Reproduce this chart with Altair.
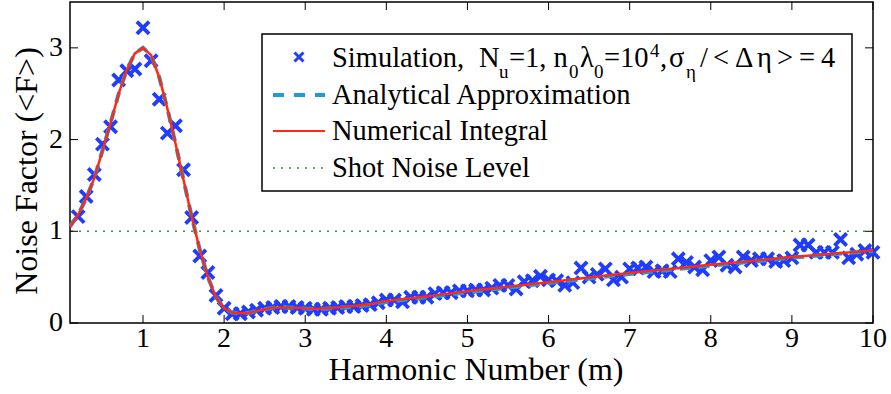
import altair as alt
import pandas as pd

# ---- data -------------------------------------------------------------
# Simulated noise factor at each harmonic number
harmonic = [0.2, 0.3, 0.4, 0.5, 0.6, 0.7, 0.8, 0.9, 1.0,
            1.1, 1.2, 1.3, 1.4, 1.5, 1.6, 1.7, 1.8, 1.9, 2.0,
            2.1, 2.2, 2.3, 2.4, 2.5, 2.6, 2.7, 2.8, 2.9, 3.0,
            3.1, 3.2, 3.3, 3.4, 3.5, 3.6, 3.7, 3.8, 3.9, 4.0,
            4.1, 4.2, 4.3, 4.4, 4.5, 4.6, 4.7, 4.8, 4.9, 5.0,
            5.1, 5.2, 5.3, 5.4, 5.5, 5.6, 5.7, 5.8, 5.9, 6.0,
            6.1, 6.2, 6.3, 6.4, 6.5, 6.6, 6.7, 6.8, 6.9, 7.0,
            7.1, 7.2, 7.3, 7.4, 7.5, 7.6, 7.7, 7.8, 7.9, 8.0,
            8.1, 8.2, 8.3, 8.4, 8.5, 8.6, 8.7, 8.8, 8.9, 9.0,
            9.1, 9.2, 9.3, 9.4, 9.5, 9.6, 9.7, 9.8, 9.9, 10.0]
simulation = [1.16, 1.38, 1.62, 1.95, 2.14, 2.65, 2.75, 2.77, 3.22,
              2.86, 2.44, 2.07, 2.15, 1.67, 1.15, 0.73, 0.55, 0.30, 0.16,
              0.10, 0.10, 0.12, 0.14, 0.16, 0.17, 0.18, 0.18, 0.17, 0.16,
              0.15, 0.15, 0.16, 0.17, 0.18, 0.18, 0.19, 0.20, 0.22, 0.25,
              0.25, 0.23, 0.28, 0.28, 0.28, 0.32, 0.33, 0.33, 0.35, 0.35,
              0.36, 0.36, 0.38, 0.41, 0.41, 0.37, 0.45, 0.46, 0.51, 0.47,
              0.46, 0.41, 0.44, 0.60, 0.50, 0.53, 0.59, 0.47, 0.50, 0.59,
              0.60, 0.61, 0.56, 0.57, 0.56, 0.70, 0.66, 0.61, 0.58, 0.68,
              0.72, 0.63, 0.61, 0.72, 0.68, 0.70, 0.70, 0.67, 0.68, 0.71,
              0.85, 0.85, 0.77, 0.77, 0.77, 0.91, 0.71, 0.75, 0.79, 0.77]

# Theory curves
curve_m = [0.1, 0.2, 0.3, 0.4, 0.5, 0.6, 0.7, 0.8, 0.9, 1.0,
           1.1, 1.2, 1.3, 1.4, 1.5, 1.6, 1.7, 1.8, 1.9, 2.0,
           2.1, 2.2, 2.3, 2.4, 2.5, 2.6, 2.7, 2.8, 2.9, 3.0,
           3.1, 3.2, 3.4, 3.6, 3.8, 4.0, 4.5, 5.0, 5.5, 6.0,
           6.5, 7.0, 7.5, 8.0, 8.5, 9.0, 9.5, 10.0]
numerical = [1.05, 1.18, 1.36, 1.58, 1.88, 2.18, 2.50, 2.76, 2.94, 3.00,
             2.92, 2.68, 2.34, 1.96, 1.56, 1.16, 0.80, 0.50, 0.28, 0.16,
             0.115, 0.105, 0.11, 0.13, 0.15, 0.165, 0.17, 0.17, 0.165, 0.158,
             0.155, 0.157, 0.17, 0.185, 0.205, 0.24, 0.29, 0.345, 0.395, 0.445,
             0.495, 0.545, 0.59, 0.635, 0.675, 0.72, 0.755, 0.79]
analytical = [1.05, 1.18, 1.36, 1.58, 1.88, 2.18, 2.50, 2.76, 2.94, 3.00,
              2.92, 2.68, 2.34, 1.96, 1.56, 1.16, 0.80, 0.50, 0.28, 0.16,
              0.115, 0.105, 0.11, 0.13, 0.15, 0.165, 0.17, 0.17, 0.165, 0.158,
              0.153, 0.153, 0.163, 0.177, 0.196, 0.23, 0.28, 0.335, 0.385, 0.435,
              0.485, 0.535, 0.58, 0.625, 0.668, 0.712, 0.75, 0.785]

shot_noise = [1.0]

x_ticks = [1, 2, 3, 4, 5, 6, 7, 8, 9, 10]
y_ticks = [0, 1, 2, 3]

# ---- styling ------------------------------------------------------------
W, H = 803, 321
FONT = "Liberation Serif"
BLUE = "#1f3cff"
CYAN = "#1b9ddb"
RED = "#ff2a10"
GREEN = "#2ca02c"
X_PATH = "M-1,-1L1,1M-1,1L1,-1"
TICK = 8

x_scale = alt.Scale(domain=[0.1, 10], nice=False, zero=False)
y_scale = alt.Scale(domain=[0, 3.5], nice=False, zero=False)

sim_df = pd.DataFrame({"m": harmonic, "F": simulation})
curve_df = pd.DataFrame({"m": curve_m, "num": numerical, "ana": analytical})
shot_df = pd.DataFrame({"F": shot_noise})
xt_df = pd.DataFrame({"m": x_ticks})
yt_df = pd.DataFrame({"F": y_ticks})
one = alt.Data(values=[{}])


def X(field):
    return alt.X(field, scale=x_scale, axis=None)


def Y(field):
    return alt.Y(field, scale=y_scale, axis=None)


sim = alt.Chart(sim_df).mark_point(
    shape=X_PATH, filled=False, color=BLUE, strokeWidth=3.8, size=150, opacity=1
).encode(x=X("m:Q"), y=Y("F:Q"))

ana = alt.Chart(curve_df).mark_line(
    color=CYAN, strokeWidth=4, strokeDash=[11, 8]
).encode(x=X("m:Q"), y=Y("ana:Q"))

num = alt.Chart(curve_df).mark_line(color=RED, strokeWidth=2.5).encode(
    x=X("m:Q"), y=Y("num:Q"))

shot = alt.Chart(shot_df).mark_rule(
    color=GREEN, strokeWidth=1.5, strokeDash=[2, 6]
).encode(y=Y("F:Q"))

# inward ticks on all four sides
tick_style = dict(color="black", strokeWidth=1)
xt_bottom = alt.Chart(xt_df).mark_rule(**tick_style).encode(
    x=X("m:Q"), y=alt.value(H), y2=alt.value(H - TICK))
xt_top = alt.Chart(xt_df).mark_rule(**tick_style).encode(
    x=X("m:Q"), y=alt.value(0), y2=alt.value(TICK))
yt_left = alt.Chart(yt_df).mark_rule(**tick_style).encode(
    y=Y("F:Q"), x=alt.value(0), x2=alt.value(TICK))
yt_right = alt.Chart(yt_df).mark_rule(**tick_style).encode(
    y=Y("F:Q"), x=alt.value(W), x2=alt.value(W - TICK))

# tick labels placed through the same scales
xt_labels = alt.Chart(xt_df).mark_text(
    font=FONT, fontSize=28, color="black", baseline="alphabetic", align="center"
).encode(x=X("m:Q"), y=alt.value(H + 24), text=alt.Text("m:Q", format="d"))
yt_labels = alt.Chart(yt_df).mark_text(
    font=FONT, fontSize=28, color="black", baseline="middle", align="right"
).encode(y=Y("F:Q"), x=alt.value(-7), text=alt.Text("F:Q", format="d"))

x_title = alt.Chart(one).mark_text(
    text="Harmonic Number (m)", font=FONT, fontSize=32, color="black",
    align="center", baseline="alphabetic"
).encode(x=alt.value(406), y=alt.value(H + 57))
y_title = alt.Chart(one).mark_text(
    text="Noise Factor (<F>)", font=FONT, fontSize=32, color="black",
    align="center", baseline="alphabetic", angle=270
).encode(x=alt.value(-33), y=alt.value(169))

# ---- legend box -----------------------------------------------------------
box = alt.Chart(one).mark_rect(fill="white", stroke="black", strokeWidth=1.5).encode(
    x=alt.value(192), x2=alt.value(782), y=alt.value(32), y2=alt.value(189))

leg_sym = alt.Chart(one).mark_point(
    shape=X_PATH, filled=False, color=BLUE, strokeWidth=3, size=80, opacity=1
).encode(x=alt.value(229), y=alt.value(55))
leg_ana = alt.Chart(one).mark_rule(color=CYAN, strokeWidth=4, strokeDash=[11, 10]).encode(
    x=alt.value(203), x2=alt.value(255), y=alt.value(93))
leg_num = alt.Chart(one).mark_rule(color=RED, strokeWidth=2).encode(
    x=alt.value(203), x2=alt.value(255), y=alt.value(129))
leg_shot = alt.Chart(one).mark_rule(color=GREEN, strokeWidth=1.5, strokeDash=[2, 6]).encode(
    x=alt.value(203), x2=alt.value(255), y=alt.value(166))


def label(text, x, y, size=28.5):
    return alt.Chart(one).mark_text(
        text=text, font=FONT, fontSize=size, color="black",
        align="left", baseline="alphabetic"
    ).encode(x=alt.value(x), y=alt.value(y))


# first legend row is typeset piece by piece (sub- and superscripts)
R1, SUB, SUP = 64.5, 76, 55
texts = [
    label("Simulation,", 262, R1),
    label("N", 409, R1),
    label("u", 429, SUB, 19),
    label("=1, n", 439, R1),
    label("0", 499, SUB, 19),
    label("λ", 510, R1),
    label("0", 524, SUB, 19),
    label("=10", 534, R1),
    label("4", 580, SUP, 19),
    label(",", 590, R1),
    label("σ", 599, R1),
    label("η", 616, SUB, 19),
    label("/", 630, R1),
    label("<", 643, R1),
    label("Δ", 665, R1),
    label("η", 687, R1),
    label(">", 707, R1),
    label("=", 729, R1),
    label("4", 751, R1),
    label("Analytical Approximation", 262, 102),
    label("Numerical Integral", 262, 138),
    label("Shot Noise Level", 262, 174.5),
]

chart = alt.layer(
    sim, ana, num, shot, xt_bottom, xt_top, yt_left, yt_right,
    xt_labels, yt_labels, x_title, y_title,
    box, leg_sym, leg_ana, leg_num, leg_shot, *texts
).properties(
    width=W, height=H,
    autosize="none",
    background="white",
    padding={"left": 70, "top": 2, "right": 18, "bottom": 71},
).configure_view(
    stroke="black", strokeWidth=1.5
)

chart.save("out.html", embed_options={"renderer": "svg", "actions": False})
